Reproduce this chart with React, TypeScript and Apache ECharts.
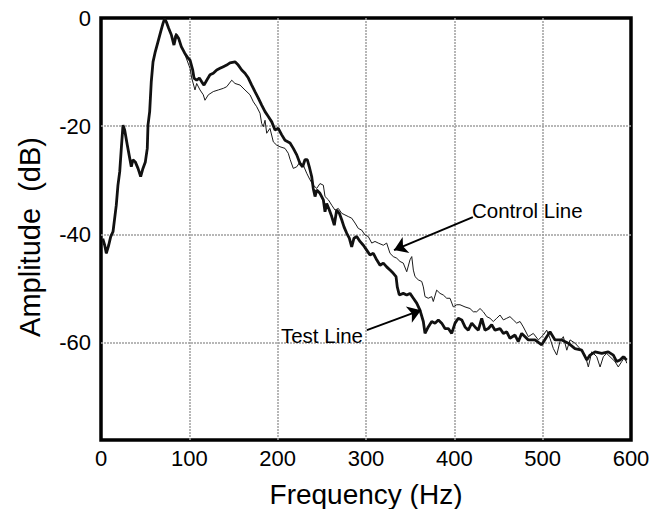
import React, { useEffect, useRef } from 'react';
import * as echarts from 'echarts';

// Frequency ticks (Hz) and amplitude tick labels (dB)
const xTickValues = [0, 100, 200, 300, 400, 500, 600];
const yTickLabels = [-60, -40, -20, 0];
const yGridValues = [-60, -40, -20];

// Shared rising part (both lines overlap up to the main peak)
const sharedFreq = [2, 4.2, 6.0, 8.7, 11.0, 13.6, 15.5, 17.3, 19.2, 21.2, 23.0, 24.9, 26.8, 29.8, 32.5, 34.3, 36.2, 38.8, 41.9, 44.9, 47.5, 50.2, 52.4, 53.2, 55.1, 56.9, 58.9, 61.5, 64.5, 67.6, 70.2, 72.1];
const sharedDb = [-40.8, -42.0, -43.5, -42.0, -40.4, -39.5, -37.0, -34.6, -30.9, -28.4, -24.1, -19.8, -20.7, -23.5, -25.9, -27.5, -26.2, -26.6, -27.8, -29.3, -27.8, -26.6, -24.1, -19.8, -17.3, -11.8, -8.1, -6.2, -4.4, -2.5, -1.0, -0.1];

// Test Line (thick) after the peak
const testFreq = [73.9, 76.6, 79.6, 82.6, 85.2, 88.0, 90.9, 94.8, 98.5, 100.8, 103.8, 105.3, 108.3, 111.3, 114.0, 116.6, 119.7, 123.4, 127.1, 131.0, 134.7, 138.5, 142.3, 146.0, 151.7, 155.4, 159.3, 163.0, 166.8, 170.6, 174.3, 178.1, 181.9, 185.7, 189.4, 193.3, 197.0, 200.7, 204.6, 208.3, 214.0, 217.7, 221.6, 225.3, 228.3, 230.9, 233.6, 235.8, 238.5, 240.3, 242.3, 244.2, 247.9, 251.7, 253.6, 255.5, 258.5, 261.2, 264.1, 266.8, 269.8, 272.5, 275.1, 278.2, 281.1, 283.8, 286.4, 289.5, 293.2, 297.0, 300.8, 304.5, 308.3, 312.1, 315.9, 319.6, 323.4, 327.2, 330.9, 334.0, 335.4, 337.7, 342.2, 346.1, 349.8, 353.6, 357.4, 361.1, 364.9, 366.8, 370.5, 374.4, 378.1, 381.9, 385.7, 389.4, 393.2, 397.0, 400.8, 404.5, 408.4, 412.1, 415.8, 419.7, 423.4, 427.2, 431.0, 434.7, 438.5, 442.3, 446.1, 451.7, 455.5, 459.3, 463.0, 468.7, 472.4, 476.3, 483.8, 491.3, 498.9, 504.6, 508.3, 514.0, 521.6, 529.0, 536.6, 544.2, 549.9, 553.6, 559.3, 566.9, 574.3, 580.0, 583.8, 587.6, 591.3, 595.1];
const testDb = [-0.7, -1.9, -3.1, -5.0, -3.1, -3.8, -5.3, -6.5, -7.4, -7.8, -9.6, -11.1, -11.5, -11.1, -11.8, -12.4, -11.5, -10.5, -10.2, -9.6, -9.3, -9.0, -8.7, -8.3, -8.1, -8.7, -9.6, -10.2, -11.1, -12.4, -13.6, -14.8, -16.1, -17.3, -18.2, -19.2, -20.7, -20.4, -21.6, -22.6, -23.1, -24.1, -25.3, -26.9, -27.5, -26.2, -26.2, -27.5, -29.3, -31.5, -33.0, -31.8, -32.4, -33.6, -35.8, -34.3, -35.5, -36.7, -38.3, -35.5, -36.1, -37.3, -38.6, -39.8, -40.7, -42.3, -40.7, -40.4, -41.3, -42.0, -42.9, -43.8, -43.5, -44.7, -45.7, -45.3, -46.0, -46.6, -47.2, -47.8, -49.7, -51.2, -50.9, -51.2, -50.9, -51.8, -52.7, -54.0, -56.1, -58.3, -57.1, -56.1, -56.4, -55.8, -56.4, -57.4, -57.4, -58.3, -56.4, -55.5, -55.8, -57.1, -57.7, -56.4, -57.1, -57.7, -55.5, -57.7, -57.4, -56.7, -57.7, -57.4, -58.3, -58.0, -59.2, -58.6, -59.8, -58.3, -59.5, -59.5, -60.4, -58.9, -58.0, -59.5, -59.5, -60.1, -61.1, -61.4, -63.2, -62.3, -61.7, -62.0, -61.7, -62.3, -63.5, -63.2, -62.6, -63.2];

// Control Line (thin) after the peak
const controlFreq = [78.1, 81.9, 84.9, 89.4, 95.1, 100.8, 102.7, 106.4, 108.3, 112.1, 115.8, 117.7, 121.5, 127.1, 132.8, 138.5, 142.3, 148.0, 151.7, 157.4, 163.0, 168.7, 172.5, 176.3, 180.0, 181.9, 183.7, 185.7, 187.6, 191.3, 195.1, 198.9, 202.6, 208.3, 212.0, 214.0, 217.7, 221.6, 225.3, 229.0, 232.9, 236.6, 240.4, 244.2, 247.9, 251.7, 253.6, 257.4, 261.2, 264.9, 268.7, 272.5, 276.2, 279.9, 283.8, 287.6, 291.3, 295.1, 298.9, 302.6, 306.5, 310.2, 313.9, 319.6, 323.4, 327.2, 330.9, 334.8, 338.5, 342.2, 346.1, 349.8, 351.8, 353.6, 355.5, 359.2, 363.1, 364.9, 366.8, 370.5, 374.4, 376.2, 380.0, 383.8, 387.5, 391.4, 395.1, 398.8, 402.7, 406.4, 412.1, 417.7, 421.5, 425.3, 429.1, 432.8, 436.7, 440.4, 444.1, 448.0, 451.7, 455.5, 459.3, 463.0, 466.8, 470.6, 474.4, 478.1, 483.8, 489.4, 495.1, 500.7, 504.6, 508.3, 512.1, 515.9, 519.6, 523.4, 527.3, 531.0, 536.6, 542.3, 548.0, 551.7, 555.6, 561.2, 565.0, 568.7, 572.5, 576.2, 581.9, 585.6, 589.5, 593.2, 595.1];
const controlDb = [-2.5, -4.1, -2.8, -4.7, -6.8, -9.3, -11.1, -13.3, -12.1, -13.3, -14.2, -15.2, -14.2, -13.6, -13.3, -13.0, -12.7, -11.5, -12.1, -12.4, -13.3, -14.2, -15.5, -16.4, -17.6, -19.5, -20.1, -18.9, -21.3, -20.4, -22.9, -23.5, -23.8, -24.1, -25.0, -26.1, -27.8, -27.5, -26.6, -27.2, -28.7, -29.9, -30.9, -31.5, -30.6, -30.9, -33.0, -33.6, -34.6, -35.5, -35.2, -36.1, -36.4, -36.7, -37.0, -37.9, -38.9, -39.2, -40.1, -40.4, -41.6, -41.3, -41.6, -42.0, -41.6, -43.5, -44.1, -44.4, -45.0, -45.3, -46.9, -44.7, -44.1, -46.6, -47.8, -48.4, -48.7, -49.7, -51.5, -51.8, -51.5, -52.4, -50.3, -50.9, -51.2, -51.8, -51.8, -53.4, -53.0, -53.0, -53.4, -53.7, -54.3, -54.3, -53.7, -54.3, -55.2, -55.5, -56.1, -55.5, -54.9, -55.8, -55.5, -55.2, -55.8, -56.4, -56.1, -57.1, -58.9, -58.3, -59.5, -58.6, -57.7, -59.2, -61.1, -62.3, -59.8, -58.9, -61.4, -59.5, -60.1, -61.1, -62.3, -64.5, -61.7, -62.6, -64.5, -62.6, -62.0, -62.6, -63.5, -64.5, -63.5, -62.6, -63.8];

// Annotations in data coordinates [Hz, dB]
const controlLabelAt = [420, -35.5];
const controlArrowFrom = [421, -36.8];
const controlArrowTo = [331.7, -42.9];
const testLabelAt = [296.6, -58.6];
const testArrowFrom = [301, -57.7];
const testArrowTo = [362.3, -54.0];

const FONT = '"Liberation Sans", Arial, Helvetica, sans-serif';

const pairs = (fs: number[], ds: number[]) => fs.map((f, i) => [f, ds[i]]);

export default function App() {
  const ref = useRef<HTMLDivElement>(null);
  useEffect(() => {
    if (!ref.current) return;
    const chart = echarts.init(ref.current, null, { renderer: 'svg' });
    const gridStyle = { color: '#a0a0a0', width: 1.5, type: [2, 1] as any };
    const option: any = {
      animation: false,
      backgroundColor: '#ffffff',
      grid: { left: 101, right: 28, top: 18, bottom: 69, show: true, borderColor: '#000', borderWidth: 3.5, backgroundColor: 'transparent', outerBoundsMode: 'none' },
      xAxis: {
        type: 'value', min: xTickValues[0], max: xTickValues[xTickValues.length - 1], interval: 100,
        name: 'Frequency (Hz)', nameLocation: 'middle', nameGap: 40,
        nameTextStyle: { fontSize: 28, color: '#000', fontFamily: FONT },
        axisLine: { show: false }, axisTick: { show: false },
        axisLabel: { color: '#000', fontSize: 22, fontFamily: FONT, margin: 7 },
        splitLine: { show: true, showMinLine: false, showMaxLine: false, lineStyle: gridStyle },
      },
      yAxis: {
        type: 'value', min: -78, max: 0,
        name: 'Amplitude  (dB)', nameLocation: 'middle', nameGap: 57,
        nameTextStyle: { fontSize: 29, color: '#000', fontFamily: FONT, padding: [0, 16, 0, 0] },
        axisLine: { show: false },
        axisTick: { show: false, customValues: yGridValues },
        axisLabel: { color: '#000', fontSize: 22, fontFamily: FONT, margin: 10, customValues: yTickLabels },
        splitLine: { show: true, showMinLine: true, showMaxLine: true, lineStyle: gridStyle },
      },
      series: [
        {
          name: 'Control Line', type: 'line', showSymbol: false, symbol: 'none',
          data: pairs([...sharedFreq, ...controlFreq], [...sharedDb, ...controlDb]),
          lineStyle: { color: '#1a1a1a', width: 1 },
          z: 3,
          markPoint: {
            silent: true,
            data: [
              { name: 'Control Line', coord: controlLabelAt, symbol: 'circle', symbolSize: 0,
                label: { show: true, formatter: '{b}', position: [0, 0], align: 'left', verticalAlign: 'middle', color: '#000', fontSize: 20.5, fontFamily: FONT } },
              { name: 'Test Line', coord: testLabelAt, symbol: 'circle', symbolSize: 0,
                label: { show: true, formatter: '{b}', position: [0, 0], align: 'right', verticalAlign: 'middle', color: '#000', fontSize: 20.5, fontFamily: FONT } },
            ],
          },
        },
        {
          name: 'Test Line', type: 'line', showSymbol: false, symbol: 'none',
          data: pairs([...sharedFreq, ...testFreq], [...sharedDb, ...testDb]),
          lineStyle: { color: '#111', width: 2.8 },
          z: 4,
          markLine: {
            silent: true, symbol: ['none', 'arrow'], symbolSize: 13,
            lineStyle: { color: '#000', width: 2, type: 'solid' },
            label: { show: false },
            data: [
              [{ coord: testArrowFrom }, { coord: testArrowTo }],
              [{ coord: controlArrowFrom }, { coord: controlArrowTo }],
            ],
          },
        },
      ],
    };
    chart.setOption(option);
    return () => chart.dispose();
  }, []);
  return <div ref={ref} style={{ position: 'fixed', left: 0, top: 0, width: 659, height: 509 }} />;
}
